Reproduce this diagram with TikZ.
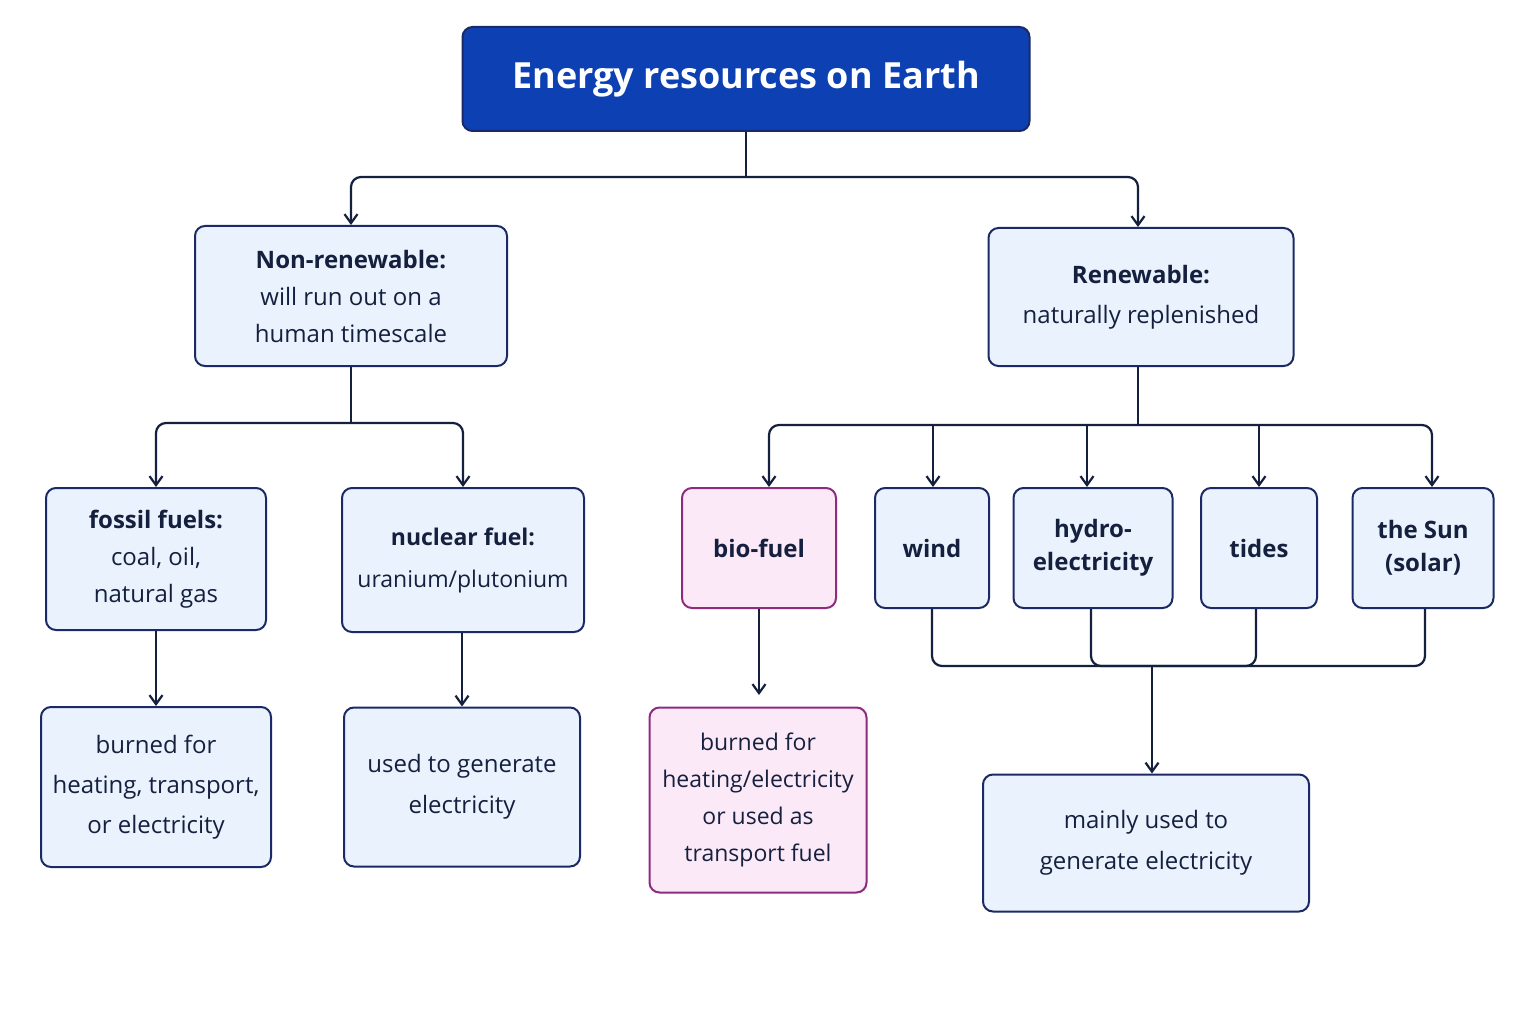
\documentclass[tikz,border=0pt]{standalone}
\usepackage{fontspec}
\setmainfont{Open Sans}
\usetikzlibrary{arrows.meta}
\definecolor{navy}{HTML}{1B2A66}
\definecolor{lb}{HTML}{EAF3FD}
\definecolor{tb}{HTML}{0D40B3}
\definecolor{pk}{HTML}{FCE9F7}
\definecolor{pkb}{HTML}{8E2B7D}
\definecolor{ln}{HTML}{15203F}
\begin{document}
\begin{tikzpicture}[x=1pt,y=-1pt,
 box/.style={draw=navy,fill=lb,line width=2pt,rounded corners=10pt,align=center,inner sep=0pt,font=\fontsize{24}{37}\selectfont,text=ln},
 pbox/.style={box,draw=pkb,fill=pk},
 con/.style={draw=ln,line width=2.2pt,rounded corners=10pt},
 arr/.style={con,-{Straight Barb[length=9pt,width=13pt]}}]
\useasboundingbox (0,0) rectangle (1536,1024);
\fill[white] (0,0) rectangle (1536,1024);
\node[box,fill=tb,draw=navy,text=white,minimum width=567pt,minimum height=104pt,font=\fontsize{36}{40}\selectfont\bfseries] (t) at (746,79) {Energy resources on Earth};
\node[box,minimum width=312pt,minimum height=140pt] (nr) at (351,296) {\textbf{Non-renewable:}\\will run out on a\\human timescale};
\node[box,minimum width=305pt,minimum height=138pt,font=\fontsize{24}{40}\selectfont] (r) at (1141,297) {\textbf{Renewable:}\\naturally replenished};
\node[box,minimum width=220pt,minimum height=142pt] (ff) at (156,559) {\textbf{fossil fuels:}\\coal, oil,\\natural gas};
\node[box,minimum width=242pt,minimum height=144pt,font=\fontsize{23}{42}\selectfont] (nf) at (463,560) {\textbf{nuclear fuel:}\\uranium/plutonium};
\node[pbox,minimum width=154pt,minimum height=120pt,font=\fontsize{24}{37}\selectfont\bfseries] (bf) at (759,548) {bio-fuel};
\node[box,minimum width=114pt,minimum height=120pt,font=\fontsize{24}{37}\selectfont\bfseries] (w) at (932,548) {wind};
\node[box,minimum width=159pt,minimum height=120pt,font=\fontsize{24}{33}\selectfont\bfseries] (h) at (1093,548) {hydro-\\electricity};
\node[box,minimum width=116pt,minimum height=120pt,font=\fontsize{24}{37}\selectfont\bfseries] (ti) at (1259,548) {tides};
\node[box,minimum width=141pt,minimum height=120pt,font=\fontsize{24}{33}\selectfont\bfseries] (s) at (1423,548) {the Sun\\(solar)};
\node[box,minimum width=230pt,minimum height=160pt,font=\fontsize{24}{40}\selectfont] (b1) at (156,787) {burned for\\heating, transport,\\or electricity};
\node[box,minimum width=236pt,minimum height=159pt,font=\fontsize{24}{41}\selectfont] (b2) at (462,787) {used to generate\\electricity};
\node[pbox,minimum width=217pt,minimum height=185pt,font=\fontsize{23}{37}\selectfont] (b3) at (758,800) {burned for\\heating/electricity\\or used as\\transport fuel};
\node[box,minimum width=326pt,minimum height=137pt,font=\fontsize{24}{41}\selectfont] (m) at (1146,843) {mainly used to\\generate electricity};
\coordinate (j1) at (746,177);
\coordinate (j2) at (351,423);
\coordinate (j3) at (1138,425);
\coordinate (j4) at (1152,666);
\draw[con] (t.south) -- (j1);
\draw[arr] (j1) -| (nr.north);
\draw[arr] (j1) -| (r.north-|1138,0);
\draw[con] (nr.south) -- (j2);
\draw[arr] (j2) -| (ff.north);
\draw[arr] (j2) -| (nf.north);
\draw[con] (r.south-|1138,0) -- (j3);
\draw[arr] (j3) -| (bf.north-|769,0);
\draw[arr] (j3) -| (s.north-|1432,0);
\draw[arr] (933,425) -- (w.north-|933,0);
\draw[arr] (1087,425) -- (h.north-|1087,0);
\draw[arr] (1259,425) -- (ti.north);
\draw[arr] (bf.south) -- ([yshift=-86pt]bf.south);
\draw[arr] (ff.south) -- (b1.north);
\draw[arr] (b2.north|-nf.south) -- (b2.north);
\draw[con] (w.south) |- (j4);
\draw[con] (s.south-|1425,0) |- (j4);
\draw[con] (h.south-|1091,0) |- (j4);
\draw[con] (ti.south-|1256,0) |- (j4);
\draw[arr] (j4) -- (m.north-|j4);
\end{tikzpicture}
\end{document}
